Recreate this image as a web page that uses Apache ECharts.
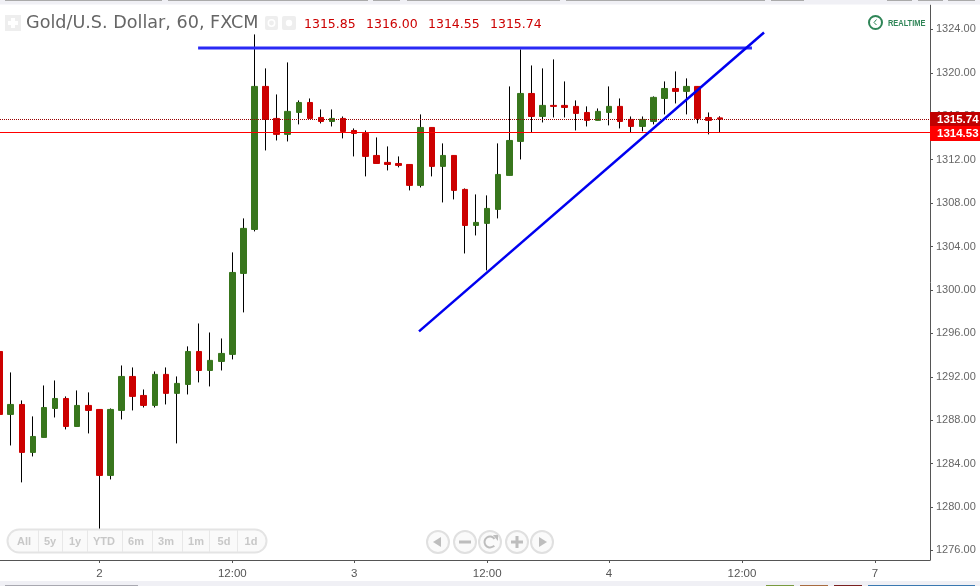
<!DOCTYPE html>
<html><head><meta charset="utf-8">
<style>html,body{margin:0;padding:0;background:#fff}#c{width:980px;height:586px}</style>
<script src="https://cdn.jsdelivr.net/npm/echarts@6/dist/echarts.min.js"></script>
</head><body><div id="c"></div>
<script>
const opens=[1294.33,1288.53,1289.45,1285.03,1286.41,1289.08,1290.00,1287.42,1289.36,1288.99,1282.91,1288.90,1292.03,1290.28,1289.36,1292.22,1290.47,1291.29,1294.33,1292.58,1293.41,1294.06,1301.52,1305.57,1318.75,1315.80,1314.33,1316.35,1317.27,1315.89,1315.52,1315.80,1314.69,1314.42,1312.39,1311.75,1311.65,1311.56,1309.63,1314.97,1311.38,1312.39,1309.26,1305.94,1306.13,1307.42,1310.55,1313.68,1318.10,1315.98,1317.00,1317.00,1316.91,1316.35,1315.62,1316.35,1316.91,1315.71,1315.06,1315.52,1317.64,1318.56,1318.29,1318.75,1315.89,1315.85];
const closes=[1288.53,1289.45,1285.03,1286.50,1289.17,1290.00,1287.42,1289.36,1288.90,1282.91,1288.99,1292.03,1290.19,1289.36,1292.22,1290.47,1291.39,1294.33,1292.58,1293.51,1294.15,1301.61,1305.67,1318.75,1315.71,1314.33,1316.45,1317.27,1315.80,1315.52,1315.80,1314.60,1314.42,1312.30,1311.65,1311.56,1311.47,1309.63,1314.97,1311.38,1312.39,1309.17,1305.94,1306.22,1307.51,1310.64,1313.77,1318.10,1315.98,1317.00,1316.91,1316.81,1316.26,1315.62,1316.45,1316.91,1315.52,1315.06,1315.71,1317.74,1318.56,1318.29,1318.75,1315.80,1315.62,1315.74];
const lows=[1288.53,1285.67,1282.27,1284.66,1286.41,1288.25,1287.15,1287.42,1286.78,1277.75,1282.54,1288.07,1288.90,1289.17,1289.17,1289.45,1285.86,1290.37,1291.48,1291.11,1292.58,1293.60,1297.93,1305.39,1312.85,1313.77,1313.68,1315.25,1315.80,1315.34,1315.06,1313.96,1312.30,1310.46,1311.65,1311.01,1311.29,1309.17,1309.44,1310.46,1308.06,1308.34,1303.36,1305.02,1301.80,1306.59,1310.55,1312.02,1314.51,1315.43,1315.89,1315.89,1314.69,1315.06,1315.62,1315.16,1314.88,1314.51,1314.60,1315.25,1316.17,1317.18,1316.17,1315.34,1314.33,1314.55];
const highs=[1294.33,1292.40,1289.82,1288.35,1291.20,1291.66,1290.19,1290.74,1290.56,1288.99,1289.08,1293.04,1292.86,1290.83,1292.49,1292.86,1292.03,1294.80,1296.91,1296.08,1295.53,1303.46,1306.59,1323.54,1320.41,1318.01,1320.96,1317.46,1317.64,1316.63,1316.63,1315.98,1314.88,1314.69,1314.05,1313.22,1312.30,1311.56,1316.17,1314.97,1313.50,1312.39,1309.35,1308.80,1308.71,1313.50,1318.75,1322.16,1320.68,1320.41,1321.24,1319.21,1317.46,1316.91,1316.72,1318.75,1317.64,1315.98,1315.98,1317.83,1319.21,1320.13,1319.49,1318.75,1316.35,1316.00];
const xTickPositions=[9,21,32,44,55,67,79];
const xTickLabels=['2','12:00','3','12:00','4','12:00','7'];
const yTicks=[1276,1280,1284,1288,1292,1296,1300,1304,1308,1312,1316,1320,1324];
const resistanceLine=[[17.91,1322.3],[67.9,1322.3]];
const trendLine=[[37.85,1296.18],[68.99,1323.72]];
const lastPrice=1315.74, bidPrice=1314.53;
const ohlcText=['1315.85','1316.00','1314.55','1315.74'];
const rangeLabels=['All','5y','1y','YTD','6m','3m','1m','5d','1d'];

const RED='#cc0000',GREEN='#38761d';
const wicks=opens.map((o,i)=>[i,o,closes[i],lows[i],highs[i]]);
const bodies=opens.map((o,i)=>[i,o,closes[i],Math.min(o,closes[i]),Math.max(o,closes[i])]);

const g=[];
const rect=(x,y,w,h,fill,extra)=>g.push(Object.assign({type:'rect',silent:true,shape:{x,y,width:w,height:h},style:{fill}},extra||{}));
const text=(x,y,t,font,fill,align,extra)=>g.push(Object.assign({type:'text',silent:true,z:20,x,y,style:{text:t,font,fill,align:align||'left',verticalAlign:'middle'}},extra||{}));
rect(0,0,980,4.5,'#f0f0f5',{z:1});
[[5,162],[168,368],[373,400],[407,560],[566,765],[771,804],[887,912],[918,943],[948,975]].forEach(b=>rect(b[0],0,b[1]-b[0],1,'#aaaaaa',{z:2}));
rect(0,581,980,5,'#f0f0f5',{z:1});
rect(5,585,133,1,'#a8a8b0',{z:2});
[[766,794,'#7a9a3f'],[800,828,'#a86b3f'],[834,862,'#7a2020'],[868,975,'#3a78b0']].forEach(b=>rect(b[0],585,b[1]-b[0],1,b[2],{z:2}));
// header
rect(5,15,16,16,'#eeeeee',{z:20});
rect(11,18,4,10,'#fff',{z:21});rect(8,21,10,4,'#fff',{z:21});
text(26,23,'Gold/U.S. Dollar, 60, FXCM','17.6px "DejaVu Sans"','#666666');
rect(265,16,13,14,'#eeeeee',{z:20,shape:{x:265,y:16,width:13,height:14,r:2}});
g.push({type:'circle',silent:true,z:21,shape:{cx:271.5,cy:23,r:3.2},style:{fill:'none',stroke:'#fff',lineWidth:1.5}});
rect(282,16,14,14,'#eeeeee',{z:20,shape:{x:282,y:16,width:14,height:14,r:2}});
g.push({type:'circle',silent:true,z:21,shape:{cx:289,cy:23,r:3.2},style:{fill:'#fff'}});
[304,366,428,490].forEach((x,i)=>text(x,24.5,ohlcText[i],'12.5px "DejaVu Sans"',RED));
// realtime
g.push({type:'circle',silent:true,z:20,shape:{cx:875.5,cy:22.5,r:6.5},style:{fill:'#fff',stroke:'#2f8557',lineWidth:2}});
g.push({type:'polyline',silent:true,z:20,shape:{points:[[876.5,19.5],[874,22.5],[876.5,25]]},style:{fill:'none',stroke:'#2f8557',lineWidth:1}});
text(888,23,'REALTIME','bold 9.5px "Liberation Sans"','#2f8557','left',{scaleX:0.78});
// range selector
rect(7,529,260,24,'#fafafa',{z:20,shape:{x:7.5,y:529.5,width:259,height:23,r:11.5},style:{fill:'#fafafa',stroke:'#e4e4e4',lineWidth:2}});
[38,62,87,122,152,182,209,237].forEach(x=>rect(x,530,1,22,'#e8e8e8',{z:21}));
[24,50,75,104,136,166,196,224,251].forEach((x,i)=>text(x,541.5,rangeLabels[i],'bold 11px "Liberation Sans"','#c8c8c8','center'));
// nav buttons
[438,465,490,517,542].forEach(cx=>g.push({type:'circle',silent:true,z:20,shape:{cx,cy:542,r:11},style:{fill:'#fafafa',stroke:'#e0e0e0',lineWidth:2}}));
const B='#bdbdbd';
g.push({type:'polygon',silent:true,z:21,shape:{points:[[433,542],[441,537],[441,547]]},style:{fill:B}});
rect(459,540.5,12,3,B,{z:21});
g.push({type:'arc',silent:true,z:21,shape:{cx:490,cy:542,r:5.5,startAngle:-0.6,endAngle:0.7,clockwise:false},style:{fill:'none',stroke:B,lineWidth:2}});
g.push({type:'polygon',silent:true,z:21,shape:{points:[[493,535],[498,535],[498,541]]},style:{fill:B}});
rect(511,540.5,12,3,B,{z:21});rect(515.5,536,3,12,B,{z:21});
g.push({type:'polygon',silent:true,z:21,shape:{points:[[547,542],[539,537],[539,547]]},style:{fill:B}});

const chart=echarts.init(document.getElementById('c'),null,{renderer:'canvas'});
const priceLabel=(bg,oy)=>({show:true,position:'end',distance:0,offset:[0,oy],formatter:p=>p.value.toFixed(2),color:'#fff',backgroundColor:bg,fontWeight:'bold',fontFamily:'Liberation Sans',fontSize:11.5,lineHeight:12,padding:[2,6,1,7]});
chart.setOption({
 animation:false,backgroundColor:'#fff',
 grid:{left:0,right:50,top:5,bottom:26},
 xAxis:{type:'value',min:0.03,max:83.97,scale:true,splitLine:{show:false},
  axisLine:{onZero:false,lineStyle:{color:'#555',width:1}},
  axisTick:{show:true,length:3,lineStyle:{color:'#555'},customValues:xTickPositions},
  axisLabel:{customValues:xTickPositions,color:'#555',fontFamily:'Liberation Sans',fontSize:11.5,margin:8,
   formatter:v=>xTickLabels[xTickPositions.indexOf(v)]||''}},
 yAxis:{type:'value',position:'right',min:1275.12,max:1326.25,splitLine:{show:false},
  axisLine:{show:true,onZero:false,lineStyle:{color:'#555',width:1}},
  axisTick:{show:true,length:3,lineStyle:{color:'#555'},customValues:yTicks},
  axisLabel:{customValues:yTicks,color:'#666',fontFamily:'Liberation Sans',fontSize:11,margin:6,padding:[4,0,0,0],
   formatter:v=>v.toFixed(2)}},
 series:[
  {type:'candlestick',data:wicks,encode:{x:0,y:[1,2,3,4]},barWidth:1,silent:true,z:3,
   itemStyle:{color:'#000',color0:'#000',borderColor:'#000',borderColor0:'#000',borderWidth:1}},
  {type:'candlestick',data:bodies,encode:{x:0,y:[1,2,3,4]},barWidth:6,silent:true,z:4,
   itemStyle:{color:GREEN,color0:RED,borderColor:GREEN,borderColor0:RED,borderWidth:1},
   markLine:{silent:true,symbol:'none',animation:false,z:6,data:[
    {yAxis:lastPrice,lineStyle:{color:'#990000',type:'dotted',width:1},label:priceLabel('#c00000',0.4)},
    {yAxis:bidPrice,lineStyle:{color:'#ff0000',type:'solid',width:1},label:priceLabel('#ff0000',1.3)}]}},
  {type:'line',data:resistanceLine,symbol:'none',silent:true,z:8,clip:false,lineStyle:{color:'#2a2af5',width:3}},
  {type:'line',data:trendLine,symbol:'none',silent:true,z:8,clip:false,lineStyle:{color:'#0000f0',width:2.5}}
 ],
 graphic:g
});
</script></body></html>
